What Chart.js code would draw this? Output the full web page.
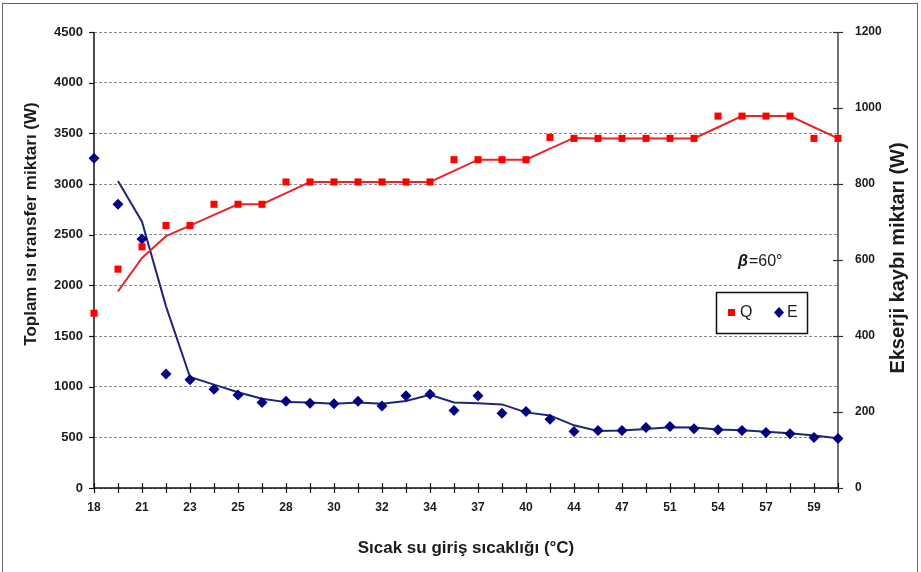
<!DOCTYPE html>
<html>
<head>
<meta charset="utf-8">
<script src="https://cdn.jsdelivr.net/npm/chart.js@4.4.1/dist/chart.umd.min.js"></script>
<style>
    html, body { margin: 0; padding: 0; background: #fff; }
    #frame { position: absolute; left: 2px; top: 3px; width: 914px; height: 600px; border: 1px solid #666; }
    #chart { position: absolute; left: 0; top: 0; }
</style>
</head>
<body>
<div id="frame"></div>
<canvas id="chart" width="921" height="572"></canvas>
<script>
// Inlet temperature categories (only every other tick carries a label)
const categories = ["18", "", "21", "", "23", "", "25", "", "28", "", "30", "", "32", "", "34", "",
    "37", "", "40", "", "44", "", "47", "", "51", "", "54", "", "57", "", "59", ""];

// Q - total heat transfer (W), left axis
const qValues = [1725, 2160, 2380, 2590, 2590, 2800, 2800, 2800, 3020, 3020, 3020, 3020, 3020, 3020, 3020, 3240,
    3240, 3240, 3240, 3460, 3450, 3450, 3450, 3450, 3450, 3450, 3670, 3670, 3670, 3670, 3450, 3450];
// Q trend line as drawn in the figure
const qTrend = [null, 1940, 2270, 2485, 2590, 2695, 2800, 2800, 2910, 3020, 3020, 3020, 3020, 3020, 3020, 3130,
    3240, 3240, 3240, 3350, 3455, 3450, 3450, 3450, 3450, 3450, 3560, 3670, 3670, 3670, 3560, 3450];

// E - exergy loss (W), right axis
const eValues = [868, 747, 655, 300, 285, 260, 245, 225, 228, 223, 222, 228, 216, 243, 247, 204,
    243, 197, 201, 181, 149, 151, 151, 159, 162, 156, 153, 151, 146, 143, 133, 130];
// E trend line as drawn in the figure
const eTrend = [null, 808, 701, 478, 292, 272, 252, 235, 226, 225, 222, 225, 222, 229, 245, 225,
    223, 220, 199, 191, 165, 150, 151, 155, 160, 159, 154, 152, 148, 144, 138, 131];

const leftTicks = { min: 0, max: 4500, step: 500 };
const rightTicks = { min: 0, max: 1200, step: 200 };

const xTitle = "Sıcak su giriş sıcaklığı (°C)";
const yTitle = "Toplam ısı transfer miktarı (W)";
const y1Title = "Ekserji kaybı miktarı (W)";

const FONT = "'Liberation Sans', Arial, sans-serif";
const RED = "#ff0000";
const NAVY = "#000080";
const plainNumber = v => String(v);

// axis lines + tick marks, drawn under the markers
const axisPlugin = {
    id: "axisMarks",
    beforeDatasetsDraw(chart) {
        const { ctx, chartArea: a, scales } = chart;
        const line = (x1, y1, x2, y2) => {
            ctx.beginPath();
            ctx.moveTo(x1, y1);
            ctx.lineTo(x2, y2);
            ctx.stroke();
        };
        ctx.save();
        ctx.strokeStyle = "#111";
        ctx.lineWidth = 1.5;
        line(a.left, a.top, a.left, a.bottom);
        line(a.left, a.bottom, a.right, a.bottom);
        ctx.strokeStyle = "#444";
        line(a.right, a.top, a.right, a.bottom);

        ctx.lineWidth = 1.2;
        ctx.strokeStyle = "#111";
        scales.x.ticks.forEach((t, i) => {
            const px = Math.round(scales.x.getPixelForTick(i)) + 0.5;
            line(px, a.bottom - 5, px, a.bottom + 5);
        });
        scales.y.ticks.forEach((t, i) => {
            const py = Math.round(scales.y.getPixelForTick(i)) + 0.5;
            line(a.left - 5, py, a.left, py);
        });
        ctx.strokeStyle = "#333";
        scales.y1.ticks.forEach((t, i) => {
            const py = Math.round(scales.y1.getPixelForTick(i)) + 0.5;
            line(a.right - 5, py, a.right + 5, py);
        });
        ctx.restore();
    },
    afterDraw(chart) {
        const { ctx, chartArea: a } = chart;
        ctx.save();
        ctx.fillStyle = "#1c1c1c";
        ctx.textAlign = "center";
        ctx.textBaseline = "middle";

        // axis titles
        ctx.font = "bold 17px " + FONT;
        ctx.fillText(xTitle, (a.left + a.right) / 2, 548);
        ctx.save();
        ctx.translate(31, 224);
        ctx.rotate(-Math.PI / 2);
        ctx.fillText(yTitle, 0, 0);
        ctx.restore();
        ctx.save();
        ctx.font = "bold 20px " + FONT;
        ctx.translate(898, 258);
        ctx.rotate(-Math.PI / 2);
        ctx.fillText(y1Title, 0, 0);
        ctx.restore();

        // beta annotation
        ctx.textAlign = "left";
        ctx.textBaseline = "alphabetic";
        let bx = 738;
        ctx.font = "italic bold 16px " + FONT;
        ctx.fillText("β", bx, 266);
        bx += ctx.measureText("β").width + 1;
        ctx.font = "16px " + FONT;
        ctx.fillText("=60°", bx, 266);

        // legend box
        ctx.lineWidth = 1.5;
        ctx.strokeStyle = "#111";
        ctx.fillStyle = "#fff";
        ctx.fillRect(716, 292, 91, 41);
        ctx.strokeRect(716.5, 292.5, 91, 41);
        ctx.fillStyle = RED;
        ctx.fillRect(728, 309, 7, 7);
        ctx.fillStyle = NAVY;
        ctx.beginPath();
        ctx.moveTo(779, 307);
        ctx.lineTo(784, 312.5);
        ctx.lineTo(779, 318);
        ctx.lineTo(774, 312.5);
        ctx.closePath();
        ctx.fill();
        ctx.fillStyle = "#1c1c1c";
        ctx.font = "16px " + FONT;
        ctx.textBaseline = "middle";
        ctx.fillText("Q", 740, 313);
        ctx.fillText("E", 787, 313);
        ctx.restore();
    }
};

new Chart(document.getElementById("chart"), {
    type: "line",
    data: {
        labels: categories,
        datasets: [
            {
                label: "Q",
                data: qValues,
                yAxisID: "y",
                showLine: false,
                pointStyle: "rect",
                pointRadius: 5,
                pointBackgroundColor: RED,
                pointBorderColor: RED,
                pointBorderWidth: 0,
                order: 1
            },
            {
                label: "E",
                data: eValues,
                yAxisID: "y1",
                showLine: false,
                pointStyle: "rectRot",
                pointRadius: 5.5,
                pointBackgroundColor: NAVY,
                pointBorderColor: NAVY,
                pointBorderWidth: 0,
                order: 2
            },
            {
                label: "Q trend",
                data: qTrend,
                yAxisID: "y",
                borderColor: "#e8262b",
                borderWidth: 2,
                pointRadius: 0,
                tension: 0,
                order: 3
            },
            {
                label: "E trend",
                data: eTrend,
                yAxisID: "y1",
                borderColor: "#23237a",
                borderWidth: 2,
                pointRadius: 0,
                tension: 0,
                order: 4
            }
        ]
    },
    options: {
        responsive: false,
        devicePixelRatio: 1,
        animation: false,
        layout: { padding: { top: 32, left: 0, right: 0, bottom: 0 } },
        plugins: {
            legend: { display: false },
            tooltip: { enabled: false }
        },
        scales: {
            x: {
                type: "category",
                offset: false,
                grid: { display: false, drawTicks: false },
                border: { display: false },
                ticks: {
                    autoSkip: false,
                    maxRotation: 0,
                    padding: 12,
                    color: "#1c1c1c",
                    font: { family: FONT, size: 12, weight: "bold" }
                },
                afterFit: s => { s.height = 84; }
            },
            y: {
                position: "left",
                min: leftTicks.min,
                max: leftTicks.max,
                grid: { color: "#8c8c8c", lineWidth: 1, drawTicks: false },
                border: { display: false, dash: [3, 2] },
                ticks: {
                    stepSize: leftTicks.step,
                    padding: 11,
                    color: "#1c1c1c",
                    callback: plainNumber,
                    font: { family: FONT, size: 13, weight: "bold" }
                },
                afterFit: s => { s.width = 94; }
            },
            y1: {
                position: "right",
                min: rightTicks.min,
                max: rightTicks.max,
                grid: { display: false, drawTicks: false },
                border: { display: false },
                ticks: {
                    stepSize: rightTicks.step,
                    padding: 17,
                    color: "#1c1c1c",
                    callback: plainNumber,
                    font: { family: FONT, size: 12, weight: "bold" }
                },
                afterFit: s => { s.width = 83; }
            }
        }
    },
    plugins: [axisPlugin]
});
</script>
</body>
</html>
